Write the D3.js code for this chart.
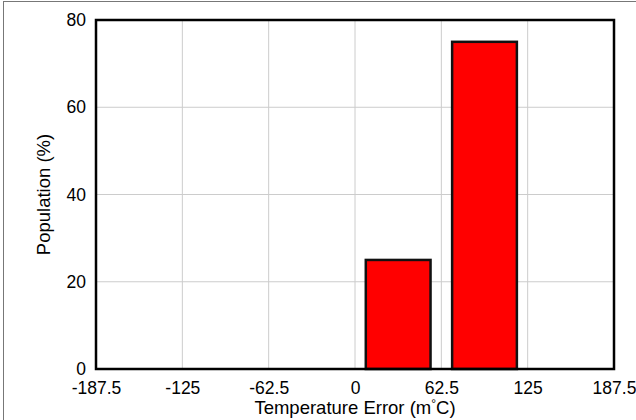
<!DOCTYPE html>
<html>
<head>
<meta charset="utf-8">
<script src="https://cdn.jsdelivr.net/npm/d3@7"></script>
<style>
  html, body { margin: 0; padding: 0; background: #fff; }
  svg { display: block; font-family: "Liberation Sans", Arial, sans-serif; }
</style>
</head>
<body>
<svg id="chart" width="636" height="420"></svg>
<script>
// Histogram bins (m°C): centres of each 62.5-wide bin
const binCenters = [-156.25, -93.75, -31.25, 31.25, 93.75, 156.25];
const population = [0, 0, 0, 25, 75, 0];
const xTicks = [-187.5, -125, -62.5, 0, 62.5, 125, 187.5];
const yTicks = [0, 20, 40, 60, 80];
const binWidth = 62.5;

const svg = d3.select("#chart");
const W = 636, H = 420;
const m = { left: 96, right: 22, top: 20, bottom: 51 };
const iw = W - m.left - m.right, ih = H - m.top - m.bottom;
const FONT = "Liberation Sans, Arial, sans-serif";

// outer frame
svg.append("rect")
  .attr("x", 3.5).attr("y", 1.5)
  .attr("width", W).attr("height", H)
  .attr("fill", "none").attr("stroke", "#777").attr("stroke-width", 1);

const x = d3.scaleLinear().domain([-187.5, 187.5]).range([0, iw]);
const y = d3.scaleLinear().domain([0, 80]).range([ih, 0]);

const g = svg.append("g").attr("transform", `translate(${m.left},${m.top})`);

// grid
g.append("g").selectAll("line").data(xTicks.slice(1, -1)).join("line")
  .attr("x1", d => x(d)).attr("x2", d => x(d))
  .attr("y1", 0).attr("y2", ih)
  .attr("stroke", "#cccccc").attr("stroke-width", 1);
g.append("g").selectAll("line").data(yTicks.slice(1, -1)).join("line")
  .attr("x1", 0).attr("x2", iw)
  .attr("y1", d => y(d)).attr("y2", d => y(d))
  .attr("stroke", "#cccccc").attr("stroke-width", 1);

// bars (75% of bin width)
g.append("g").selectAll("rect").data(binCenters).join("rect")
  .attr("x", d => x(d - binWidth * 0.375))
  .attr("width", d => x(d + binWidth * 0.375) - x(d - binWidth * 0.375))
  .attr("y", (d, i) => y(population[i]))
  .attr("height", (d, i) => ih - y(population[i]))
  .attr("fill", "#ff0000").attr("stroke", "#111").attr("stroke-width", 2.5);

// plot frame
g.append("rect").attr("x", 0).attr("y", 0).attr("width", iw).attr("height", ih)
  .attr("fill", "none").attr("stroke", "#000").attr("stroke-width", 2.5);

// axes
const xAxis = g.append("g").attr("transform", `translate(0,${ih})`)
  .call(d3.axisBottom(x).tickValues(xTicks).tickSize(0).tickPadding(13)
        .tickFormat(d => String(d)));
xAxis.select(".domain").remove();
xAxis.selectAll("text").attr("font-size", 17.5).attr("fill", "#000")
  .attr("font-family", FONT);

const yAxis = g.append("g")
  .call(d3.axisLeft(y).tickValues(yTicks).tickSize(0).tickPadding(10)
        .tickFormat(d => String(d)));
yAxis.select(".domain").remove();
yAxis.selectAll("text").attr("font-size", 17.5).attr("fill", "#000")
  .attr("font-family", FONT);

// axis titles
const xt = svg.append("text")
  .attr("x", m.left + x(0)).attr("y", 414)
  .attr("text-anchor", "middle").attr("font-size", 18.5).attr("fill", "#000")
  .attr("font-family", FONT);
xt.append("tspan").text("Temperature Error (m");
xt.append("tspan").attr("dy", -6).attr("font-size", 12).text("°");
xt.append("tspan").attr("dy", 6).text("C)");

svg.append("text")
  .attr("transform", `translate(50,${m.top + ih / 2}) rotate(-90)`)
  .attr("text-anchor", "middle").attr("font-size", 18.5).attr("fill", "#000")
  .attr("font-family", FONT)
  .text("Population (%)");
</script>
</body>
</html>
